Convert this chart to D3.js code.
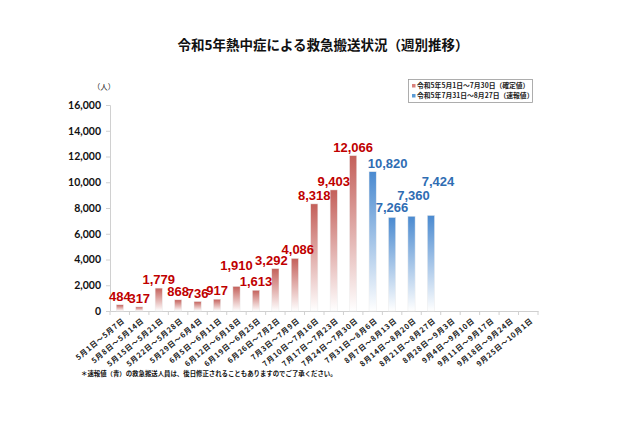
<!DOCTYPE html>
<html><head><meta charset="utf-8">
<script src="https://cdn.jsdelivr.net/npm/d3@7"></script>
<style>body{margin:0;background:#fff;}svg{display:block;}</style>
</head><body>
<script>
const categories = ["5月1日～5月7日","5月8日～5月14日","5月15日～5月21日","5月22日～5月28日","5月29日～6月4日","6月5日～6月11日","6月12日～6月18日","6月19日～6月25日","6月26日～7月2日","7月3日～7月9日","7月10日～7月16日","7月17日～7月23日","7月24日～7月30日","7月31日～8月6日","8月7日～8月13日","8月14日～8月20日","8月21日～8月27日","8月28日～9月3日","9月4日～9月10日","9月11日～9月17日","9月18日～9月24日","9月25日～10月1日"];
const confirmedValues = [484,317,1779,868,736,917,1910,1613,3292,4086,8318,9403,12066,null,null,null,null,null,null,null,null,null];
const preliminaryValues = [null,null,null,null,null,null,null,null,null,null,null,null,null,10820,7266,7360,7424,null,null,null,null,null];
const yTicks = [0,2000,4000,6000,8000,10000,12000,14000,16000];
const legendLabels = ["令和5年5月1日～7月30日（確定値）","令和5年7月31日～8月27日（速報値）"];
const titleText = "令和5年熱中症による救急搬送状況（週別推移）";
const noteText = "＊速報値（青）の救急搬送人員は、後日修正されることもありますのでご了承ください。";

const W = 640, H = 426;
const m = {left:110, right:102, top:105, bottom:115};
const svg = d3.select("body").append("svg").attr("width",W).attr("height",H);
const defs = svg.append("defs");
function grad(id, c){
  const g = defs.append("linearGradient").attr("id",id).attr("x1",0).attr("y1",0).attr("x2",0).attr("y2",1);
  g.append("stop").attr("offset","0%").attr("stop-color",c);
  g.append("stop").attr("offset","100%").attr("stop-color","#ffffff");
}
grad("gRed","#c4605a");
grad("gBlue","#4a8ad0");

const x = d3.scaleBand().domain(categories).range([m.left, W-m.right]).paddingInner(0.63).paddingOuter(0.32);
const y = d3.scaleLinear().domain([0,16000]).range([H-m.bottom, m.top]);

const font = "'Noto Sans CJK JP','Noto Sans',sans-serif";
const numFont = "'Liberation Sans Narrow','Liberation Sans',sans-serif";

svg.append("text").attr("x",323).attr("y",50).attr("text-anchor","middle")
  .attr("font-family",font).attr("font-weight","bold").attr("font-size",13.5).attr("fill","#111").text(titleText);

// y axis
const yAxis = svg.append("g").attr("transform",`translate(${m.left},0)`)
  .call(d3.axisLeft(y).tickValues(yTicks).tickSize(4).tickFormat(d3.format(",")));
yAxis.select(".domain").attr("stroke","#d0d0d0");
yAxis.selectAll(".tick line").attr("stroke","#d0d0d0");
yAxis.selectAll("text").attr("font-family","Lato,'Open Sans',sans-serif").attr("font-weight","bold").attr("font-size",10.5).attr("fill","#111").attr("x",-9);

svg.append("text").attr("x",104).attr("y",90).attr("text-anchor","middle")
  .attr("font-family",font).attr("font-size",7.5).attr("fill","#222").text("（人）");

// x axis
const xAxis = svg.append("g").attr("transform",`translate(0,${H-m.bottom})`)
  .call(d3.axisBottom(x).tickSize(0).tickFormat(""));
xAxis.select(".domain").attr("stroke","#d0d0d0");
svg.append("g").selectAll("line").data(d3.range(categories.length+1)).join("line")
  .attr("x1",i=>m.left + i*(W-m.right-m.left)/categories.length)
  .attr("x2",i=>m.left + i*(W-m.right-m.left)/categories.length)
  .attr("y1",H-m.bottom).attr("y2",H-m.bottom+4).attr("stroke","#d0d0d0");

svg.append("g").selectAll("text").data(categories).join("text")
  .attr("transform",d=>`translate(${x(d)+x.bandwidth()/2+4},${H-m.bottom+9}) rotate(-40)`)
  .attr("text-anchor","end").attr("dominant-baseline","middle")
  .attr("letter-spacing",0.7)
  .attr("font-family",font).attr("font-weight","bold").attr("font-size",7.4).attr("fill","#222").text(d=>d);

// bars
function drawBars(vals, fill){
  const data = categories.map((c,i)=>({c, v:vals[i], i})).filter(d=>d.v!=null);
  svg.append("g").selectAll("rect").data(data).join("rect")
    .attr("x",d=>x(d.c)).attr("width",x.bandwidth())
    .attr("y",d=>y(d.v)).attr("height",d=>y(0)-y(d.v))
    .attr("fill",fill).attr("stroke","#ececec").attr("stroke-width",0.5);
  return data;
}
const redData = drawBars(confirmedValues,"url(#gRed)");
const blueData = drawBars(preliminaryValues,"url(#gBlue)");

// label adjustments (pixels) mimic manual placement in the original
const labelShift = {6:[0,-12],8:[-4,0],9:[3,0],13:[15,0],14:[0,-1],15:[2,-12],16:[7,-25]};
function drawLabels(data, color){
  svg.append("g").selectAll("text").data(data).join("text")
    .attr("x",d=>x(d.c)+x.bandwidth()/2 + (labelShift[d.i]?labelShift[d.i][0]:0))
    .attr("y",d=>y(d.v)-4 + (labelShift[d.i]?labelShift[d.i][1]:0))
    .attr("text-anchor","middle")
    .attr("font-family",numFont).attr("font-weight","bold").attr("font-size",13)
    .attr("fill",color).text(d=>d3.format(",")(d.v));
}
drawLabels(redData,"#c00000");
drawLabels(blueData,"#2f6db3");

// legend
const lg = svg.append("g");
lg.append("rect").attr("x",408.5).attr("y",79.5).attr("width",124).attr("height",23)
  .attr("fill","#fff").attr("stroke","#9a9a9a").attr("stroke-width",0.8);
const lcol = ["#d9807b","#5b9bd5"];
legendLabels.forEach((t,i)=>{
  lg.append("rect").attr("x",412).attr("y",84+i*10).attr("width",3.5).attr("height",3.5).attr("fill",lcol[i]);
  lg.append("text").attr("x",417).attr("y",86+i*10).attr("dominant-baseline","middle")
    .attr("font-family",font).attr("font-weight","bold").attr("font-size",6.8).attr("fill","#222").text(t);
});

svg.append("text").attr("x",81).attr("y",376)
  .attr("font-family",font).attr("font-weight","bold").attr("font-size",6.4).attr("fill","#111").text(noteText);
</script>
</body></html>
